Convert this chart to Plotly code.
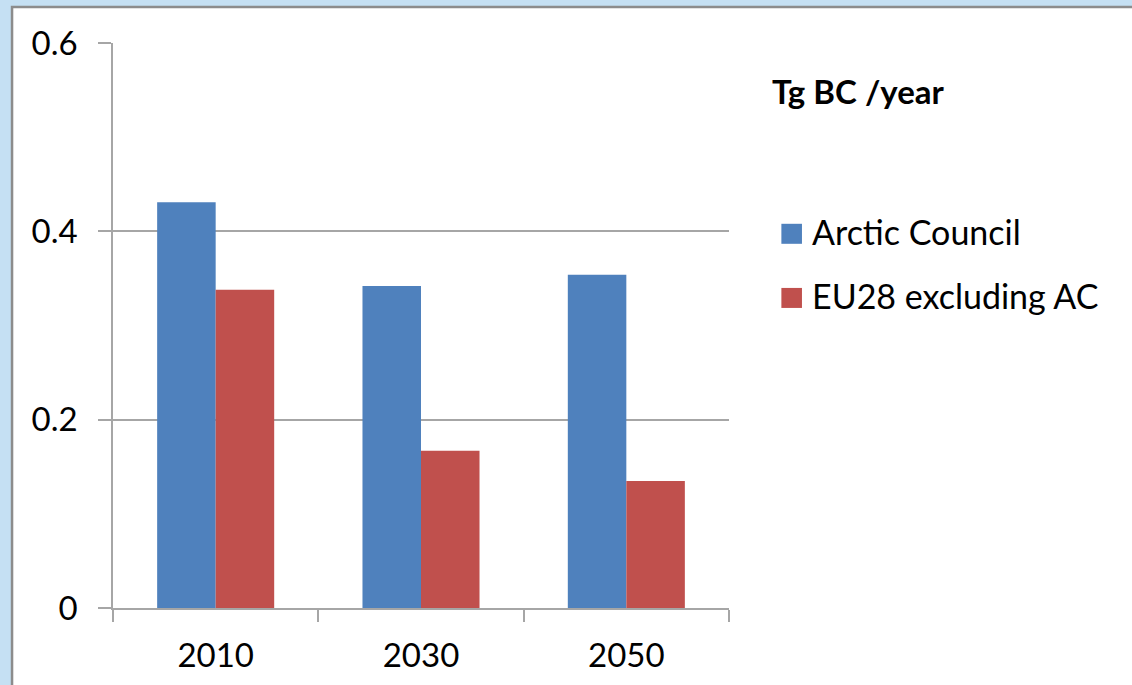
import plotly.graph_objects as go

# Black carbon emissions, Tg BC per year
years = ["2010", "2030", "2050"]
series_names = ["Arctic Council", "EU28 excluding AC"]
arctic_council = [0.431, 0.342, 0.354]
eu28_excl_ac = [0.338, 0.167, 0.135]
series_colors = ["#4F81BD", "#C0504D"]
y_ticks = [0, 0.2, 0.4, 0.6]
y_tick_text = ["0", "0.2", "0.4", "0.6"]
unit_label = "Tg BC /year"

W, H = 1132, 685
# plot-area edges in pixels
L, R, T, B = 113, 729.3, 43, 607.7
FONT = "Lato"
GRID = "#A6A6A6"


def px_x(x):
    return (x - L) / (R - L)


def px_y(y):
    return (B - y) / (B - T)


fig = go.Figure()
for name, vals, col in zip(series_names, [arctic_council, eu28_excl_ac], series_colors):
    fig.add_trace(go.Bar(x=years, y=vals, name=name, marker=dict(color=col, line=dict(width=0)),
                         showlegend=False))

shapes = [
    # white chart panel with grey frame
    dict(type="rect", xref="paper", yref="paper", layer="below",
         x0=px_x(12), x1=px_x(W + 10), y0=px_y(H + 10), y1=px_y(7),
         fillcolor="white", line=dict(color="#8C8C8C", width=2.5)),
]
annotations = [
    dict(text=f"<b>{unit_label}</b>", xref="paper", yref="paper", x=px_x(770), y=px_y(91),
         xanchor="left", yanchor="middle", showarrow=False,
         font=dict(family=FONT, size=33, color="black")),
]

# legend entries: colour square + label
legend_rows = [233.7, 297.8]
for name, col, yc in zip(series_names, series_colors, legend_rows):
    shapes.append(dict(type="rect", xref="paper", yref="paper",
                       x0=px_x(781.7), x1=px_x(802.3), y0=px_y(yc + 10), y1=px_y(yc - 10),
                       fillcolor=col, line=dict(width=0)))
    annotations.append(dict(text=name, xref="paper", yref="paper", x=px_x(810), y=px_y(yc - 2),
                            xanchor="left", yanchor="middle", showarrow=False,
                            font=dict(family=FONT, size=34, color="black")))

fig.update_layout(
    width=W, height=H,
    margin=dict(l=L, r=W - R, t=T, b=H - B, pad=0),
    paper_bgcolor="#C5E0F3",
    plot_bgcolor="white",
    barmode="group", bargap=0.43, bargroupgap=0,
    font=dict(family=FONT, size=33, color="black"),
    shapes=shapes, annotations=annotations,
    showlegend=False,
    xaxis=dict(showline=True, linecolor=GRID, linewidth=1.5, ticks="outside",
               tickson="boundaries", ticklen=12, tickcolor=GRID, tickwidth=1.5,
               showgrid=False, ticklabelstandoff=18,
               tickfont=dict(family=FONT, size=33)),
    yaxis=dict(range=[0, 0.6], tickvals=y_ticks, ticktext=y_tick_text,
               showline=True, linecolor=GRID, linewidth=1.5,
               ticks="outside", ticklen=13, tickcolor=GRID, tickwidth=1.5,
               showgrid=True, gridcolor=GRID, gridwidth=1.5, zeroline=False,
               ticklabelstandoff=14, tickfont=dict(family=FONT, size=33)),
)

fig.write_html("out.html")
